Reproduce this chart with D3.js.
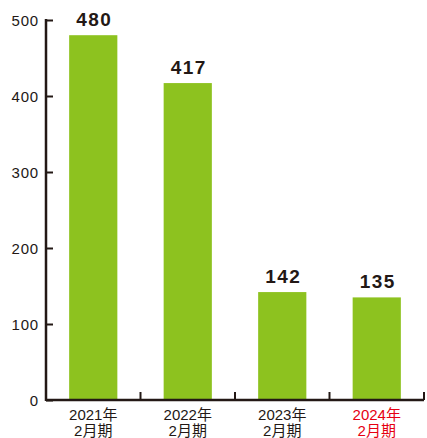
<!DOCTYPE html>
<html>
<head>
<meta charset="utf-8">
<script src="https://cdn.jsdelivr.net/npm/d3@7"></script>
<style>
  body { margin: 0; background: #fff; }
  svg text { font-family: "Liberation Sans", Arial, "Noto Sans CJK JP", sans-serif; }
</style>
</head>
<body>
<svg width="427" height="438"></svg>
<script>
var years = ["2021年", "2022年", "2023年", "2024年"];
var periods = ["2月期", "2月期", "2月期", "2月期"];
var values = [480, 417, 142, 135];
var yTicks = [0, 100, 200, 300, 400, 500];

var svg = d3.select("svg"),
	axisColor = "#231815",
	barColor = "#8dc21f";

var x = d3.scaleBand()
	.domain(years)
	.range([46, 424])
	.paddingInner(0.49)
	.paddingOuter(0.245);

var y = d3.scaleLinear()
	.domain([0, 500])
	.range([400, 20]);

// bars
svg.selectAll(".bar")
	.data(values)
	.enter().append("rect")
	.attr("class", "bar")
	.attr("x", function(d, i) { return x(years[i]); })
	.attr("y", function(d) { return y(d); })
	.attr("width", x.bandwidth())
	.attr("height", function(d) { return y(0) - y(d); })
	.attr("fill", barColor);

// value labels
svg.selectAll(".val")
	.data(values)
	.enter().append("text")
	.attr("class", "val")
	.attr("x", function(d, i) { return x(years[i]) + x.bandwidth() / 2 + 1; })
	.attr("y", function(d) { return y(d) - 9; })
	.attr("text-anchor", "middle")
	.attr("font-size", 19)
	.attr("font-weight", "bold")
	.attr("letter-spacing", 1.5)
	.attr("fill", axisColor)
	.text(function(d) { return d; });

// y axis
var yAxis = svg.append("g")
	.attr("transform", "translate(46,0)")
	.call(d3.axisRight(y).tickValues(yTicks).tickSize(7).tickFormat(""));
yAxis.select(".domain").remove();
yAxis.selectAll("line").attr("stroke", axisColor).attr("stroke-width", 2);
yAxis.append("line")
	.attr("x1", 0).attr("x2", 0)
	.attr("y1", y(500) - 1).attr("y2", y(0) + 1)
	.attr("stroke", axisColor).attr("stroke-width", 2.5);

svg.selectAll(".ylab")
	.data(yTicks)
	.enter().append("text")
	.attr("class", "ylab")
	.attr("x", 39)
	.attr("y", function(d) { return y(d) + 5.5; })
	.attr("text-anchor", "end")
	.attr("font-size", 15)
	.attr("letter-spacing", 0.8)
	.attr("fill", axisColor)
	.text(function(d) { return d; });

// x axis
var step = x.step();
var xBounds = years.map(function(d) { return x(d) + x.bandwidth() / 2 + step / 2; });
svg.append("line")
	.attr("x1", 46).attr("x2", xBounds[xBounds.length - 1])
	.attr("y1", y(0)).attr("y2", y(0))
	.attr("stroke", axisColor).attr("stroke-width", 2.5);
svg.selectAll(".xtick")
	.data(xBounds)
	.enter().append("line")
	.attr("class", "xtick")
	.attr("x1", function(d) { return d; }).attr("x2", function(d) { return d; })
	.attr("y1", y(0)).attr("y2", y(0) - 8)
	.attr("stroke", axisColor).attr("stroke-width", 2);

var xlab = svg.selectAll(".xlab")
	.data(years)
	.enter().append("text")
	.attr("class", "xlab")
	.attr("text-anchor", "middle")
	.attr("font-size", 15)
	.attr("fill", function(d, i) { return i === years.length - 1 ? "#e60012" : axisColor; });
xlab.append("tspan")
	.attr("x", function(d) { return x(d) + x.bandwidth() / 2; })
	.attr("y", 420)
	.text(function(d) { return d; });
xlab.append("tspan")
	.attr("x", function(d) { return x(d) + x.bandwidth() / 2; })
	.attr("y", 436)
	.text(function(d, i) { return periods[i]; });
</script>
</body>
</html>
